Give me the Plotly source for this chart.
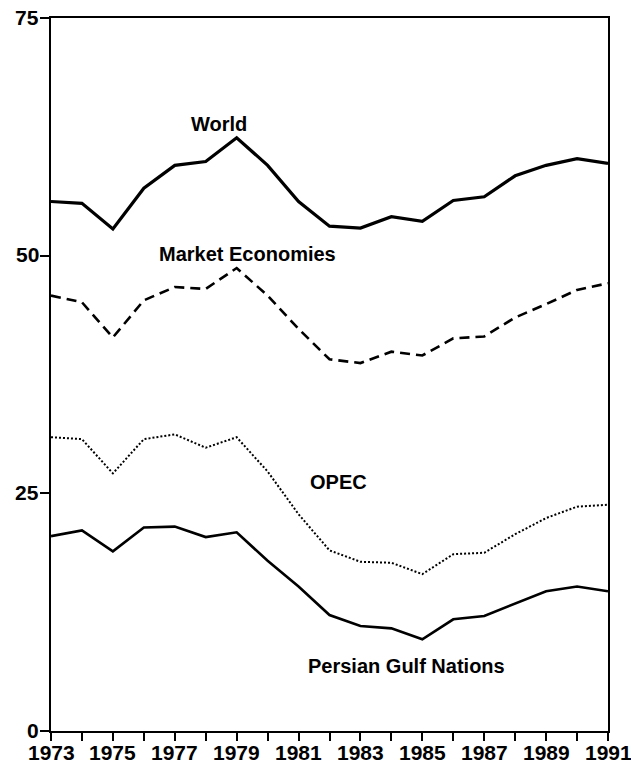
import plotly.graph_objects as go

# Annual values, 1973-1991 (percent)
years = list(range(1973, 1992))
world = [55.7, 55.5, 52.8, 57.1, 59.5, 59.9, 62.4, 59.5, 55.7, 53.1,
         52.9, 54.1, 53.6, 55.8, 56.2, 58.4, 59.5, 60.2, 59.7]
market_economies = [45.8, 45.1, 41.4, 45.3, 46.7, 46.5, 48.7, 45.8, 42.3, 39.1,
                    38.7, 39.9, 39.5, 41.3, 41.5, 43.5, 44.9, 46.4, 47.1]
opec = [30.9, 30.7, 27.1, 30.7, 31.2, 29.8, 30.9, 27.3, 22.8, 19.0,
        17.8, 17.7, 16.5, 18.6, 18.75, 20.7, 22.4, 23.6, 23.8]
persian_gulf = [20.5, 21.1, 18.9, 21.4, 21.5, 20.4, 20.9, 17.9, 15.2, 12.2,
                11.05, 10.8, 9.65, 11.75, 12.1, 13.4, 14.7, 15.2, 14.7]

series_labels = ["World", "Market Economies", "OPEC", "Persian Gulf Nations"]
label_x = [1978.42, 1979.35, 1982.3, 1984.5]
label_y = [63.8, 50.2, 26.2, 6.8]

y_ticks = [0, 25, 50, 75]
x_labelled_years = list(range(1973, 1992, 2))

FONT = "Liberation Sans, Arial, sans-serif"
TICK_FONT = dict(family=FONT, size=21, color="black", weight="bold")

fig = go.Figure()
fig.add_trace(go.Scatter(x=years, y=world, mode="lines",
                         line=dict(color="black", width=3.2)))
fig.add_trace(go.Scatter(x=years, y=market_economies, mode="lines",
                         line=dict(color="black", width=2.6, dash="10px,6px")))
fig.add_trace(go.Scatter(x=years, y=opec, mode="lines",
                         line=dict(color="black", width=2, dash="2px,2px")))
fig.add_trace(go.Scatter(x=years, y=persian_gulf, mode="lines",
                         line=dict(color="black", width=2.6)))

# series names placed beside their lines
for txt, lx, ly in zip(series_labels, label_x, label_y):
    fig.add_annotation(x=lx, y=ly, text=txt, showarrow=False,
                       xanchor="center", yanchor="middle",
                       font=dict(family=FONT, size=20, color="black", weight="bold"))

# tick labels drawn as annotations so the last year is not dropped at the edge
for yr in x_labelled_years:
    fig.add_annotation(x=yr, xref="x", y=0, yref="paper", text=str(yr),
                       showarrow=False, xanchor="center", yanchor="middle",
                       yshift=-21, borderpad=0, font=TICK_FONT)
for v in y_ticks:
    fig.add_annotation(x=0, xref="paper", y=v, yref="y", text=str(v),
                       showarrow=False, xanchor="right", yanchor="middle",
                       xshift=-11, yshift=1, borderpad=0, font=TICK_FONT)

fig.update_layout(
    width=631, height=771,
    margin=dict(l=51, r=23, t=18, b=40),
    paper_bgcolor="white", plot_bgcolor="white",
    showlegend=False,
    font=dict(family=FONT, color="black"),
)
fig.update_xaxes(
    range=[1973, 1991],
    automargin=False,
    tickmode="array", tickvals=years, showticklabels=False,
    ticks="outside", ticklen=8, tickwidth=2, tickcolor="black",
    showline=True, linecolor="black", linewidth=2, mirror=True,
    showgrid=False, zeroline=False,
)
fig.update_yaxes(
    range=[0, 75],
    automargin=False,
    tickmode="array", tickvals=y_ticks, showticklabels=False,
    ticks="outside", ticklen=9, tickwidth=2, tickcolor="black",
    showline=True, linecolor="black", linewidth=2, mirror=True,
    showgrid=False, zeroline=False,
)

fig.write_html("out.html")
